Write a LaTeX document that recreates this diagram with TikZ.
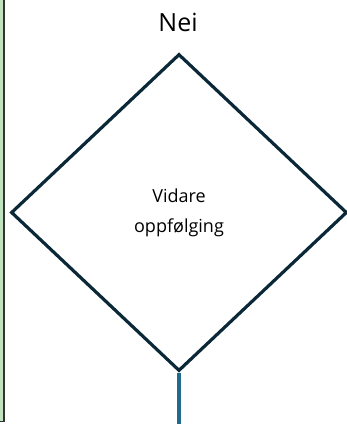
\documentclass[tikz,border=0pt]{standalone}
\usepackage{fontspec}
\setmainfont{Open Sans}
\usetikzlibrary{shapes.geometric}
\definecolor{navyline}{HTML}{0B2838}
\definecolor{flowblue}{HTML}{1F6A8E}
\definecolor{lanegreen}{HTML}{BFE4BF}
\definecolor{laneedge}{HTML}{333333}

\begin{document}
\begin{tikzpicture}[
    x=1pt, y=-1pt,
    decision/.style={draw=navyline, diamond, line width=3.2pt, align=center,
    minimum width=336pt, minimum height=317pt, inner sep=0pt,
    font=\fontsize{18}{30}\selectfont},
    label/.style={font=\fontsize{25}{30}\selectfont, inner sep=0pt},
    flow/.style={draw=flowblue, line width=3.6pt}
]
\useasboundingbox (0,0) rectangle (347,424);
% swimlane edge on the left
\fill[lanegreen] (-20,-5) rectangle (4,421.5);
\draw[laneedge, line width=1.8pt] (-20,421.5) -- (4,421.5) -- (4,-5);
\node[label] (nei) at (178,22) {Nei};
\node[decision] (followup) at (179,212.5) {Vidare\\oppfølging};
\coordinate (down) at (179,430);
\draw[flow] (followup.south) -- (down);
\end{tikzpicture}
\end{document}
